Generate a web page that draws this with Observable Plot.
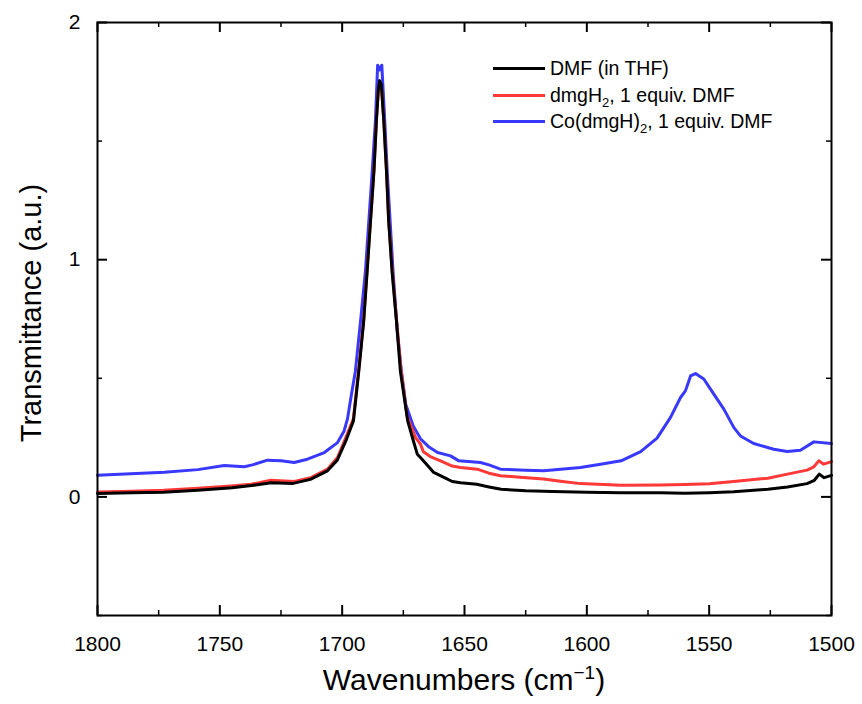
<!DOCTYPE html>
<html>
<head>
<meta charset="utf-8">
<script src="https://cdn.jsdelivr.net/npm/d3@7"></script>
<script src="https://cdn.jsdelivr.net/npm/@observablehq/plot@0.6"></script>
<style>
  html, body { margin: 0; padding: 0; background: #fff; }
  #wrap { position: relative; width: 862px; height: 704px; font-family: "Liberation Sans", Arial, sans-serif; }
  #wrap svg { position: absolute; left: 0; top: 0; }
  .legend { position: absolute; left: 493px; top: 55px; font-size: 19.5px; color: #000; }
  .legend .row { position: relative; height: 26.5px; line-height: 26.5px; white-space: nowrap; padding-left: 57px; }
  .legend .sw { position: absolute; left: 0; top: 12px; width: 52px; height: 0; border-top: 3px solid; }
  .legend sub { font-size: 13px; vertical-align: -5px; line-height: 0; }
  .xtitle { position: absolute; left: 0; width: 928px; top: 665px; line-height: 30px; text-align: center; font-size: 30px; white-space: nowrap; }
  .xtitle sup { font-size: 19px; vertical-align: 11px; line-height: 0; }
  .ytitle { position: absolute; left: 31px; top: 313px; line-height: 30px; transform: translate(-50%, -50%) rotate(-90deg); font-size: 29px; white-space: nowrap; }
</style>
</head>
<body>
<div id="wrap"></div>
<script>
// ---- data ----
const seriesNames = ["DMF (in THF)", "dmgH2, 1 equiv. DMF", "Co(dmgH)2, 1 equiv. DMF"];
const seriesColors = ["#000000", "#ff3838", "#3838ff"];

const dmfWavenumber = [1800, 1786, 1773, 1759, 1745, 1737, 1729, 1720, 1713, 1706, 1702, 1698.5, 1695.4, 1693.2, 1691.2, 1689.8, 1688.4, 1687, 1686, 1685.2, 1684.7, 1684, 1683, 1681.9, 1681, 1679.6, 1677.8, 1676.2, 1673.2, 1671, 1669.3, 1668, 1664, 1662.6, 1658, 1655, 1651.6, 1645, 1640, 1635, 1625, 1614, 1600, 1586, 1570, 1560, 1550, 1540, 1526, 1518, 1510, 1507, 1505, 1503, 1500];
const dmfValue = [0.014, 0.017, 0.02, 0.028, 0.039, 0.048, 0.06, 0.057, 0.074, 0.11, 0.155, 0.236, 0.32, 0.53, 0.74, 0.95, 1.165, 1.375, 1.587, 1.72, 1.755, 1.74, 1.587, 1.375, 1.165, 0.95, 0.74, 0.53, 0.32, 0.24, 0.18, 0.166, 0.12, 0.103, 0.08, 0.065, 0.06, 0.053, 0.042, 0.032, 0.026, 0.023, 0.02, 0.018, 0.017, 0.015, 0.018, 0.022, 0.032, 0.042, 0.056, 0.07, 0.096, 0.081, 0.091];

const dmgWavenumber = [1800, 1786, 1773, 1759, 1745.5, 1737.3, 1729.2, 1719.6, 1712.8, 1706, 1701.9, 1698.5, 1695.4, 1693.2, 1691.2, 1689.8, 1688.4, 1687, 1686, 1685.2, 1684.7, 1684, 1683, 1681.9, 1681, 1679.6, 1677.8, 1676, 1673.5, 1670, 1668, 1666.8, 1664, 1659.8, 1655, 1651.6, 1644.8, 1640, 1635.3, 1626, 1617.7, 1610, 1602.6, 1586, 1570, 1560, 1550, 1540, 1526, 1518, 1510, 1507.2, 1505.2, 1503.2, 1500];
const dmgValue = [0.021, 0.024, 0.028, 0.036, 0.046, 0.053, 0.07, 0.065, 0.081, 0.117, 0.166, 0.25, 0.33, 0.54, 0.75, 0.96, 1.17, 1.38, 1.59, 1.72, 1.75, 1.735, 1.59, 1.38, 1.17, 0.96, 0.75, 0.54, 0.34, 0.25, 0.223, 0.19, 0.17, 0.152, 0.13, 0.124, 0.117, 0.1, 0.089, 0.082, 0.075, 0.065, 0.056, 0.049, 0.05, 0.052, 0.055, 0.065, 0.079, 0.096, 0.113, 0.127, 0.152, 0.138, 0.149];

const coWavenumber = [1800, 1786.4, 1772.7, 1759, 1748.2, 1740, 1736.7, 1730.5, 1725, 1719.6, 1714.2, 1707.3, 1701.9, 1699.2, 1697.8, 1696.4, 1694.6, 1692.5, 1690.5, 1687.7, 1686.4, 1685.5, 1684.6, 1683.8, 1682.6, 1681.6, 1679.2, 1677.5, 1675.8, 1674, 1671, 1668, 1664.5, 1661, 1655.7, 1652.3, 1643.5, 1640, 1635.3, 1625, 1617.6, 1602.6, 1594.4, 1586, 1578, 1571.3, 1565.8, 1561.7, 1559.7, 1557.6, 1555.6, 1552.2, 1548.1, 1544, 1539.9, 1537.2, 1531.8, 1523.6, 1518.1, 1512.7, 1507.2, 1500];
const coValue = [0.091, 0.098, 0.104, 0.115, 0.132, 0.127, 0.135, 0.155, 0.152, 0.145, 0.159, 0.187, 0.229, 0.278, 0.33, 0.42, 0.53, 0.74, 0.95, 1.375, 1.587, 1.82, 1.8, 1.82, 1.587, 1.375, 0.95, 0.7, 0.53, 0.39, 0.3, 0.245, 0.21, 0.187, 0.173, 0.152, 0.145, 0.135, 0.117, 0.112, 0.11, 0.124, 0.138, 0.152, 0.191, 0.248, 0.335, 0.419, 0.447, 0.51, 0.52, 0.497, 0.433, 0.37, 0.292, 0.257, 0.225, 0.201, 0.191, 0.197, 0.232, 0.225];

const xMajorTicks = [1800, 1750, 1700, 1650, 1600, 1550, 1500];
const xMinorTicks = [1775, 1725, 1675, 1625, 1575, 1525];
const yMajorTicks = [0, 1, 2];
const yMinorTicks = [-0.5, 0.5, 1.5];
const xDomain = [1800, 1500];
const yDomain = [-0.5, 2];

// ---- build ----
const W = 862, H = 704;
const mL = 97, mR = 31, mT = 22, mB = 89;
const pw = W - mL - mR, ph = H - mT - mB;

const toRows = (xs, ys, s) => xs.map((x, i) => ({x, y: ys[i], s}));
const rows = [
  ...toRows(coWavenumber, coValue, seriesNames[2]),
  ...toRows(dmgWavenumber, dmgValue, seriesNames[1]),
  ...toRows(dmfWavenumber, dmfValue, seriesNames[0])
];

const tickMarks = (xs, ys, len, sw) => [
  Plot.ruleX(xs, {x: d => d, insetTop: ph - len, stroke: "#000", strokeWidth: sw}),
  Plot.ruleX(xs, {x: d => d, insetBottom: ph - len, stroke: "#000", strokeWidth: sw}),
  Plot.ruleY(ys, {y: d => d, insetRight: pw - len, stroke: "#000", strokeWidth: sw}),
  Plot.ruleY(ys, {y: d => d, insetLeft: pw - len, stroke: "#000", strokeWidth: sw})
];

const chart = Plot.plot({
  width: W, height: H,
  marginLeft: mL, marginRight: mR, marginTop: mT, marginBottom: mB,
  style: {fontFamily: '"Liberation Sans", Arial, sans-serif', fontSize: "21px", background: "transparent", color: "#000"},
  x: {domain: xDomain, label: null},
  y: {domain: yDomain, label: null},
  color: {domain: seriesNames, range: seriesColors},
  marks: [
    Plot.line(rows, {x: "x", y: "y", z: "s", stroke: "s", strokeWidth: 3, strokeLinejoin: "round"}),
    Plot.frame({stroke: "#000", strokeWidth: 2}),
    ...tickMarks(xMajorTicks, yMajorTicks, 10, 2),
    ...tickMarks(xMinorTicks, yMinorTicks, 5, 1.5),
    Plot.axisX({ticks: xMajorTicks, tickSize: 0, tickPadding: 21, tickFormat: d => String(d), label: null, fill: "#000", fontSize: 21}),
    Plot.axisY({ticks: yMajorTicks, tickSize: 0, tickPadding: 17, tickFormat: d => String(d), label: null, fill: "#000", fontSize: 21})
  ]
});

const wrap = document.getElementById("wrap");
wrap.appendChild(chart);

const legend = document.createElement("div");
legend.className = "legend";
legend.innerHTML = `
  <div class="row"><span class="sw" style="border-color:${seriesColors[0]}"></span><span>DMF (in THF)</span></div>
  <div class="row"><span class="sw" style="border-color:${seriesColors[1]}"></span><span>dmgH<sub>2</sub>, 1 equiv. DMF</span></div>
  <div class="row"><span class="sw" style="border-color:${seriesColors[2]}"></span><span>Co(dmgH)<sub>2</sub>, 1 equiv. DMF</span></div>`;
wrap.appendChild(legend);

const xt = document.createElement("div");
xt.className = "xtitle";
xt.innerHTML = "Wavenumbers (cm<sup>\u22121</sup>)";
wrap.appendChild(xt);

const yt = document.createElement("div");
yt.className = "ytitle";
yt.textContent = "Transmittance (a.u.)";
wrap.appendChild(yt);
</script>
</body>
</html>
